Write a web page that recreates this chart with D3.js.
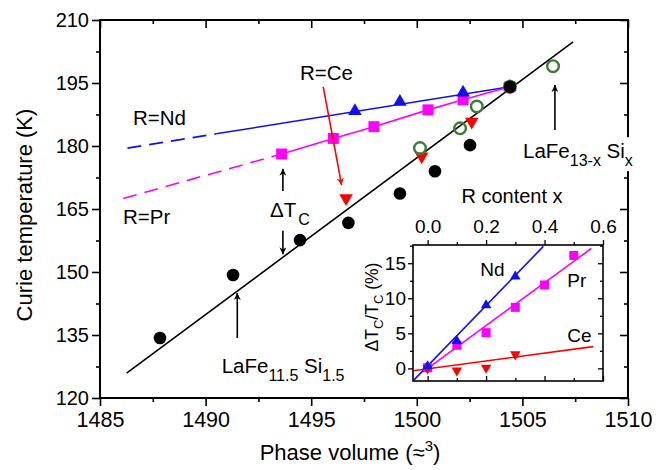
<!DOCTYPE html>
<html><head><meta charset="utf-8">
<script src="https://cdn.jsdelivr.net/npm/d3@7/dist/d3.min.js"></script>
<style>
body{margin:0;background:#fff;}
text{font-family:"Liberation Sans",Arial,Helvetica,sans-serif;fill:#000;}
</style></head>
<body><svg id="c" width="666" height="470"></svg>
<script>
// ---------- main plot data ----------
const xTicksMain = [1485,1490,1495,1500,1505,1510];
const yTicksMain = [120,135,150,165,180,195,210];
// LaFe13-xSix (black filled circles)
const laX = [1487.84,1491.30,1494.47,1496.76,1499.20,1500.86,1502.52,1504.41];
const laY = [134.3,149.3,157.6,161.7,168.7,174.0,180.2,194.1];
// linear fit of LaFe13-xSix (black line end points)
const fitX = [1486.26,1507.40];
const fitY = [125.9,204.8];
// R=Nd (blue up-triangles)
const ndX = [1497.07,1499.20,1502.19,1504.41];
const ndY = [188.3,190.5,192.7,194.1];
const ndDashX = [1486.3,1490.5], ndDashY = [179.5,182.9];
const ndSolidX = [1490.5,1504.41], ndSolidY = [182.9,194.1];
// R=Pr (magenta squares)
const prX = [1493.60,1496.05,1497.97,1500.53,1502.19,1504.41];
const prY = [178.1,181.8,184.6,188.6,191.0,194.1];
const prDashX = [1486.1,1493.6], prDashY = [167.5,178.1];
// R=Ce (red down-triangles)
const ceX = [1496.65,1500.23,1502.60,1504.41];
const ceY = [167.6,177.5,185.8,194.1];
// open green circles
const gX = [1500.15,1502.05,1502.84,1504.41,1506.45];
const gY = [179.5,184.2,189.4,194.1,199.0];

// ---------- inset data ----------
const inXTicks = [0.0,0.2,0.4,0.6];
const inYTicks = [0,5,10,15];
const inNdX = [0,0.1,0.2,0.3], inNdY = [0.3,3.9,9.0,13.1];
const inPrX = [0,0.1,0.2,0.3,0.4,0.5], inPrY = [0.1,3.3,5.1,8.7,11.9,16.1];
const inCeX = [0,0.1,0.2,0.3], inCeY = [0.0,-0.3,0.1,2.0];
const inNdFitX = [-0.05,0.396], inNdFitY = [-1.8,17.4];
const inPrFitX = [-0.016,0.56], inPrFitY = [-0.5,17.1];
const inCeFitX = [-0.05,0.566], inCeFitY = [-0.33,3.1];

const BLUE="#1010f0", MAG="#ff00ff", RED="#ff0000", GREEN="#3a7d35";

const svg = d3.select("#c");
const L=100,R=628,T=20,B=398;
const x = d3.scaleLinear().domain([1485,1510]).range([L,R]);
const y = d3.scaleLinear().domain([120,210]).range([B,T]);

function minorOf(ticks){const o=[];for(let i=0;i<ticks.length-1;i++)o.push((ticks[i]+ticks[i+1])/2);return o;}

function styleAxis(g,fs){g.select(".domain").remove();g.selectAll("line").attr("stroke","#000").attr("stroke-width",1.6);g.selectAll("text").attr("font-size",fs).attr("fill","#000").style("font-family",'"Liberation Sans",Arial,sans-serif');}

// main axes
const gAx = svg.append("g");
let g;
g = gAx.append("g").attr("transform",`translate(0,${B})`).call(d3.axisBottom(x).tickValues(xTicksMain).tickSize(8).tickPadding(6).tickFormat(d3.format("d")));styleAxis(g,21.5);
g = gAx.append("g").attr("transform",`translate(0,${B})`).call(d3.axisBottom(x).tickValues(minorOf(xTicksMain)).tickSize(4).tickFormat(""));styleAxis(g,0);
g = gAx.append("g").attr("transform",`translate(0,${T})`).call(d3.axisBottom(x).tickValues(xTicksMain).tickSize(8).tickFormat(""));styleAxis(g,0);
g = gAx.append("g").attr("transform",`translate(0,${T})`).call(d3.axisBottom(x).tickValues(minorOf(xTicksMain)).tickSize(4).tickFormat(""));styleAxis(g,0);
g = gAx.append("g").attr("transform",`translate(${L},0)`).call(d3.axisLeft(y).tickValues(yTicksMain).tickSize(8).tickPadding(3).tickFormat(d3.format("d")));styleAxis(g,20);
g = gAx.append("g").attr("transform",`translate(${L},0)`).call(d3.axisLeft(y).tickValues(minorOf(yTicksMain)).tickSize(4).tickFormat(""));styleAxis(g,0);
g = gAx.append("g").attr("transform",`translate(${R},0)`).call(d3.axisLeft(y).tickValues(yTicksMain).tickSize(8).tickFormat(""));styleAxis(g,0);
g = gAx.append("g").attr("transform",`translate(${R},0)`).call(d3.axisLeft(y).tickValues(minorOf(yTicksMain)).tickSize(4).tickFormat(""));styleAxis(g,0);
svg.append("rect").attr("x",L).attr("y",T).attr("width",R-L).attr("height",B-T).attr("fill","none").attr("stroke","#000").attr("stroke-width",2);

// axis titles
svg.append("text").attr("x",350).attr("y",460).attr("text-anchor","middle").attr("font-size",22)
  .html('Phase volume (≈<tspan font-size="15" dy="-9">3</tspan><tspan dy="9">)</tspan>');
svg.append("text").attr("transform","translate(32,215) rotate(-90)").attr("text-anchor","middle").attr("font-size",22)
  .text("Curie temperature (K)");

// lines
const line2 = (xs,ys,sx,sy)=>d3.line()(xs.map((v,i)=>[sx(v),sy(ys[i])]));
svg.append("path").attr("d",line2(fitX,fitY,x,y)).attr("stroke","#000").attr("stroke-width",1.6).attr("fill","none");
svg.append("path").attr("d",line2(ndDashX,ndDashY,x,y)).attr("stroke",BLUE).attr("stroke-width",1.6).attr("stroke-dasharray","14,8").attr("fill","none");
svg.append("path").attr("d",line2(ndSolidX,ndSolidY,x,y)).attr("stroke",BLUE).attr("stroke-width",1.6).attr("fill","none");
svg.append("path").attr("d",line2(prDashX,prDashY,x,y)).attr("stroke",MAG).attr("stroke-width",1.6).attr("stroke-dasharray","14,8").attr("fill","none");
svg.append("path").attr("d",line2(prX,prY,x,y)).attr("stroke",MAG).attr("stroke-width",1.6).attr("fill","none");

// markers
function sym(type,size,xs,ys,sx,sy,fill,rot){
  svg.append("g").selectAll("path").data(xs.map((v,i)=>[v,ys[i]])).join("path")
    .attr("d",d3.symbol().type(type).size(size)())
    .attr("transform",d=>`translate(${sx(d[0])},${sy(d[1])})${rot?" rotate(180)":""}`)
    .attr("fill",fill);
}
sym(d3.symbolSquare,121,prX,prY,x,y,MAG);
sym(d3.symbolTriangle,80,ndX,ndY,x,y,BLUE);
sym(d3.symbolTriangle,80,ceX,ceY,x,y,RED,true);
svg.append("g").selectAll("circle").data(gX.map((v,i)=>[v,gY[i]])).join("circle")
  .attr("cx",d=>x(d[0])).attr("cy",d=>y(d[1])).attr("r",5.8).attr("fill","none").attr("stroke",GREEN).attr("stroke-width",2.4);
svg.append("g").selectAll("circle").data(laX.map((v,i)=>[v,laY[i]])).join("circle")
  .attr("cx",d=>x(d[0])).attr("cy",d=>y(d[1])).attr("r",6.3).attr("fill","#000");

// arrows
const defs = svg.append("defs");
function marker(id,color){
  defs.append("marker").attr("id",id).attr("viewBox","0 0 10 10").attr("refX",10).attr("refY",5)
   .attr("markerWidth",7).attr("markerHeight",7).attr("markerUnits","userSpaceOnUse").attr("orient","auto")
   .append("path").attr("d","M0,0 L10,5 L0,10 L3,5 Z").attr("fill",color);
}
marker("ab","#000");marker("ar",RED);
function arrow(x1,y1,x2,y2,id,color){
  svg.append("line").attr("x1",x(x1)).attr("y1",y(y1)).attr("x2",x(x2)).attr("y2",y(y2))
    .attr("stroke",color).attr("stroke-width",1.6).attr("marker-end",`url(#${id})`);
}
arrow(1491.5,134.3,1491.5,145.0,"ab","#000");
arrow(1506.54,183.8,1506.54,194.5,"ab","#000");
arrow(1493.66,169.3,1493.66,174.6,"ab","#000");
arrow(1493.66,159.8,1493.66,154.2,"ab","#000");
arrow(1495.57,194.1,1496.44,170.7,"ar",RED);

// annotations
function txt(xv,yv,html,fs){return svg.append("text").attr("x",x(xv)).attr("y",y(yv)).attr("font-size",fs).html(html);}
txt(1486.56,185.0,"R=Nd",20.5);
txt(1486.09,161.4,"R=Pr",20.5);
txt(1494.47,195.7,"R=Ce",20.5);
txt(1493.05,163.1,'ΔT<tspan font-size="16" dx="2" dy="8">C</tspan>',20.5);
txt(1490.76,126.0,'LaFe<tspan font-size="16" dy="8">11.5</tspan><tspan dy="-8"> Si</tspan><tspan font-size="16" dy="8">1.5</tspan>',20.5);
const lab = txt(1505.03,177.1,'LaFe<tspan font-size="16" dy="8">13-x</tspan><tspan dy="-8"> Si</tspan><tspan font-size="16" dy="8">x</tspan>',20.5);
const bb = lab.node().getBBox();
svg.insert("rect",()=>lab.node()).attr("x",bb.x-2).attr("y",bb.y-2).attr("width",bb.width+4).attr("height",bb.height+4).attr("fill","#fff");

// ---------- inset ----------
const iL=413,iR=603,iT=245,iB=381;
const ix = d3.scaleLinear().domain([-0.05,0.6]).range([iL,iR]);
const iy = d3.scaleLinear().domain([-1.8,17.6]).range([iB,iT]);
svg.append("rect").attr("x",iL).attr("y",iT).attr("width",iR-iL).attr("height",iB-iT).attr("fill","#fff");
const gi = svg.append("g");
function st(g,fs){styleAxis(g,fs);g.selectAll("line").attr("stroke-width",1.3);}
g = gi.append("g").attr("transform",`translate(0,${iT})`).call(d3.axisTop(ix).tickValues(inXTicks).tickSize(5).tickPadding(7).tickFormat(d3.format(".1f")));st(g,19);
g = gi.append("g").attr("transform",`translate(0,${iT})`).call(d3.axisTop(ix).tickValues([0.1,0.3,0.5]).tickSize(3).tickFormat(""));st(g,0);
g = gi.append("g").attr("transform",`translate(0,${iB})`).call(d3.axisTop(ix).tickValues(inXTicks).tickSize(5).tickFormat(""));st(g,0);
g = gi.append("g").attr("transform",`translate(0,${iB})`).call(d3.axisTop(ix).tickValues([0.1,0.3,0.5]).tickSize(3).tickFormat(""));st(g,0);
g = gi.append("g").attr("transform",`translate(${iL},0)`).call(d3.axisLeft(iy).tickValues(inYTicks).tickSize(5).tickPadding(2).tickFormat(d3.format("d")));st(g,19);
g = gi.append("g").attr("transform",`translate(${iL},0)`).call(d3.axisLeft(iy).tickValues([2.5,7.5,12.5,17.5]).tickSize(3).tickFormat(""));st(g,0);
g = gi.append("g").attr("transform",`translate(${iR},0)`).call(d3.axisLeft(iy).tickValues(inYTicks).tickSize(5).tickFormat(""));st(g,0);
g = gi.append("g").attr("transform",`translate(${iR},0)`).call(d3.axisLeft(iy).tickValues([2.5,7.5,12.5,17.5]).tickSize(3).tickFormat(""));st(g,0);

defs.append("clipPath").attr("id","ic").append("rect").attr("x",iL).attr("y",iT).attr("width",iR-iL).attr("height",iB-iT);
const ip = svg.append("g").attr("clip-path","url(#ic)");
ip.append("path").attr("d",line2(inCeFitX,inCeFitY,ix,iy)).attr("stroke",RED).attr("stroke-width",1.6).attr("fill","none");
ip.append("path").attr("d",line2(inPrFitX,inPrFitY,ix,iy)).attr("stroke",MAG).attr("stroke-width",1.6).attr("fill","none");
ip.append("path").attr("d",line2(inNdFitX,inNdFitY,ix,iy)).attr("stroke",BLUE).attr("stroke-width",1.6).attr("fill","none");
function isym(type,size,xs,ys,fill,rot){
  ip.append("g").selectAll("path").data(xs.map((v,i)=>[v,ys[i]])).join("path")
    .attr("d",d3.symbol().type(type).size(size)())
    .attr("transform",d=>`translate(${ix(d[0])},${iy(d[1])})${rot?" rotate(180)":""}`).attr("fill",fill);
}
isym(d3.symbolSquare,81,inPrX,inPrY,MAG);
isym(d3.symbolTriangle,48,inCeX,inCeY,RED,true);
isym(d3.symbolTriangle,48,inNdX,inNdY,BLUE);
svg.append("rect").attr("x",iL).attr("y",iT).attr("width",iR-iL).attr("height",iB-iT).attr("fill","none").attr("stroke","#000").attr("stroke-width",1.6);

svg.append("text").attr("x",(iL+iR)/2+4).attr("y",203).attr("text-anchor","middle").attr("font-size",20).text("R content x");
svg.append("text").attr("transform",`translate(378,${(iT+iB)/2-6}) rotate(-90)`).attr("text-anchor","middle").attr("font-size",17.5)
  .html('ΔT<tspan font-size="13" dy="5">C</tspan><tspan dy="-5">/T</tspan><tspan font-size="13" dy="5">C</tspan><tspan dy="-5"> (%)</tspan>');
function itxt(xv,yv,s){svg.append("text").attr("x",ix(xv)).attr("y",iy(yv)).attr("font-size",19).text(s);}
itxt(0.18,13.2,"Nd");
itxt(0.478,11.6,"Pr");
itxt(0.478,3.8,"Ce");
</script></body></html>
